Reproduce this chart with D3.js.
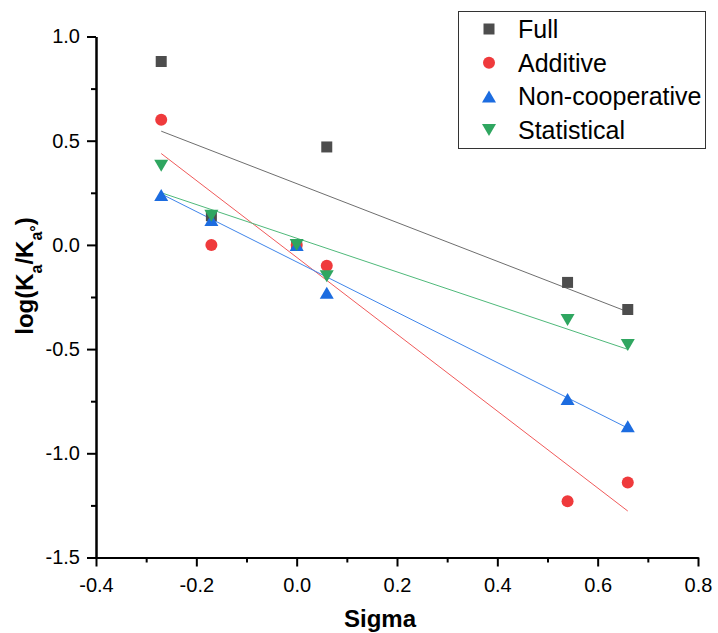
<!DOCTYPE html>
<html>
<head>
<meta charset="utf-8">
<script src="https://cdn.jsdelivr.net/npm/d3@7"></script>
<style>
body { margin: 0; background: #fff; }
text { font-family: "Liberation Sans", Arial, sans-serif; fill: #000; }
</style>
</head>
<body>
<div id="container"></div>
<script>
// Hammett sigma vs log(Ka/Ka0) for the four binding models
const sigma = [-0.27, -0.17, 0, 0.06, 0.54, 0.66];
const full = [0.88, 0.14, 0, 0.47, -0.18, -0.31];
const additive = [0.60, 0, 0, -0.10, -1.23, -1.14];
const nonCoop = [0.24, 0.12, 0, -0.23, -0.74, -0.87];
const statistical = [0.38, 0.14, 0, -0.15, -0.36, -0.48];
const seriesNames = ["Full", "Additive", "Non-cooperative", "Statistical"];
const xTicks = [-0.4, -0.2, 0, 0.2, 0.4, 0.6, 0.8];
const xMinor = [-0.3, -0.1, 0.1, 0.3, 0.5, 0.7];
const yTicks = [-1.5, -1.0, -0.5, 0, 0.5, 1.0];
const yMinor = [-1.25, -0.75, -0.25, 0.25, 0.75];

const w = 718, h = 633;
const colors = ["#4d4d4d", "#ef3a3c", "#1c6ce0", "#2fa660"];
const lineColors = ["#6e6e6e", "#f05a5a", "#3f85ea", "#4fb97a"];
const shapes = ["square", "circle", "up", "down"];

const series = seriesNames.map((name, i) => ({
  name: name,
  values: [full, additive, nonCoop, statistical][i],
  color: colors[i],
  lineColor: lineColors[i],
  shape: shapes[i]
}));

const xScale = d3.scaleLinear().domain([-0.4, 0.8]).range([96, 698]);
const yScale = d3.scaleLinear().domain([-1.5, 1.0]).range([557.5, 36.5]);

const svg = d3.select("#container").append("svg")
  .attr("width", w).attr("height", h);

// least squares fit, drawn over the data x range
function fit(xs, ys) {
  const mx = d3.mean(xs), my = d3.mean(ys);
  let sxy = 0, sxx = 0;
  xs.forEach((x, i) => { sxy += (x - mx) * (ys[i] - my); sxx += (x - mx) * (x - mx); });
  const b = sxy / sxx;
  return x => my + b * (x - mx);
}

function marker(shape) {
  if (shape === "square") return "M-5.5,-5.5H5.5V5.5H-5.5Z";
  if (shape === "circle") return "M6,0A6,6 0 1,1 -6,0A6,6 0 1,1 6,0Z";
  if (shape === "up") return "M0,-6L7,6L-7,6Z";
  return "M0,6L7,-6L-7,-6Z";
}

const xExt = d3.extent(sigma);
series.forEach(s => {
  const f = fit(sigma, s.values);
  svg.append("line")
    .attr("x1", xScale(xExt[0])).attr("y1", yScale(f(xExt[0])))
    .attr("x2", xScale(xExt[1])).attr("y2", yScale(f(xExt[1])))
    .attr("stroke", s.lineColor).attr("stroke-width", 1);
});

series.forEach(s => {
  svg.append("g").selectAll("path")
    .data(s.values)
    .enter()
    .append("path")
    .attr("d", marker(s.shape))
    .attr("transform", (d, i) => "translate(" + xScale(sigma[i]) + "," + yScale(d) + ")")
    .attr("fill", s.color);
});

// axes
const fmt = d => d.toFixed(1);
const xAxis = d3.axisBottom(xScale).tickValues(xTicks).tickFormat(fmt)
  .tickSize(9).tickSizeOuter(0).tickPadding(11);
const yAxis = d3.axisLeft(yScale).tickValues(yTicks).tickFormat(fmt)
  .tickSize(9).tickSizeOuter(0).tickPadding(7);

const gx = svg.append("g").attr("transform", "translate(0," + yScale(-1.5) + ")").call(xAxis);
const gy = svg.append("g").attr("transform", "translate(" + xScale(-0.4) + ",0)").call(yAxis);
svg.append("g").attr("transform", "translate(0," + yScale(-1.5) + ")")
  .call(d3.axisBottom(xScale).tickValues(xMinor).tickFormat("").tickSize(5).tickSizeOuter(0));
svg.append("g").attr("transform", "translate(" + xScale(-0.4) + ",0)")
  .call(d3.axisLeft(yScale).tickValues(yMinor).tickFormat("").tickSize(5).tickSizeOuter(0));

svg.selectAll(".domain").attr("stroke", "#000").attr("stroke-width", 2);
svg.selectAll(".tick line").attr("stroke", "#000").attr("stroke-width", 2);
svg.selectAll(".tick text").style("font-size", "20px")
  .style("font-family", "'Liberation Sans', Arial, sans-serif").attr("fill", "#000");

// axis titles
svg.append("text")
  .attr("x", 380).attr("y", 627)
  .attr("text-anchor", "middle")
  .style("font-size", "24px").style("font-weight", "bold")
  .text("Sigma");

const yt = svg.append("text")
  .attr("transform", "translate(33,276) rotate(-90)")
  .attr("text-anchor", "middle")
  .style("font-size", "24px").style("font-weight", "bold");
yt.append("tspan").text("log(K");
yt.append("tspan").attr("baseline-shift", "sub").style("font-size", "16px").text("a");
yt.append("tspan").text("/K");
yt.append("tspan").attr("baseline-shift", "sub").style("font-size", "16px").text("a°");
yt.append("tspan").text(")");

// legend
const legend = svg.append("g");
legend.append("rect")
  .attr("x", 458.5).attr("y", 11.5).attr("width", 247).attr("height", 137)
  .attr("fill", "#fff").attr("stroke", "#333").attr("stroke-width", 1);
series.forEach((s, i) => {
  const cy = 29 + i * 33.7;
  legend.append("path")
    .attr("d", marker(s.shape))
    .attr("transform", "translate(489," + cy + ")")
    .attr("fill", s.color);
  legend.append("text")
    .attr("x", 518).attr("y", cy + 9)
    .style("font-size", "25px")
    .text(s.name);
});
</script>
</body>
</html>
